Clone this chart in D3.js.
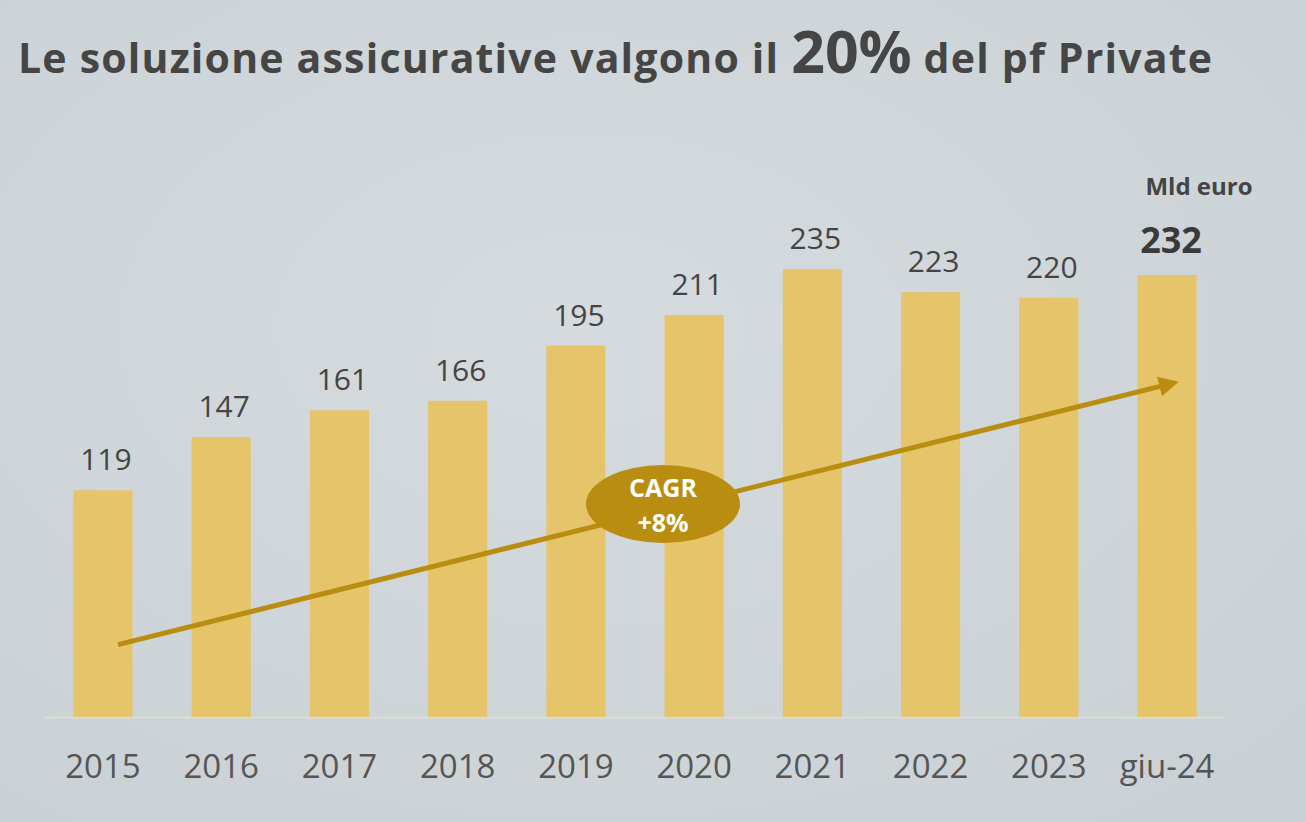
<!DOCTYPE html>
<meta charset="utf-8">
<script src="https://d3js.org/d3.v7.min.js"></script>
<style>
body { margin: 0; background: #cfd5d8; }
svg text { font-family: "Open Sans", "DejaVu Sans", sans-serif; }
</style>
<div id="chart"></div>
<script>

// data (Mld euro)
var years = ["2015", "2016", "2017", "2018", "2019", "2020", "2021", "2022", "2023", "giu-24"];
var values = [119, 147, 161, 166, 195, 211, 235, 223, 220, 232];

// CAGR trend arrow, in data units (start / end value)
var trendValues = [38, 175];
var cagrLabel = ["CAGR", "+8%"];

var W = 1306, H = 822;
var margin = {top: 0, right: 0, bottom: 105, left: 45};
var baseY = H - margin.bottom; // 717

var svg = d3.select("#chart").append("svg")
  .attr("width", W)
  .attr("height", H);

// background with a soft gradient
var defs = svg.append("defs");
var grad = defs.append("radialGradient").attr("id", "bg").attr("cx", "45%").attr("cy", "40%").attr("r", "75%");
grad.append("stop").attr("offset", "0%").attr("stop-color", "#d5dbde");
grad.append("stop").attr("offset", "100%").attr("stop-color", "#cad1d4");
svg.append("rect").attr("width", W).attr("height", H).attr("fill", "url(#bg)");

// title
var title = svg.append("text")
  .attr("x", 18).attr("y", 73)
  .attr("fill", "#454545")
  .style("font-weight", 700)
  .style("font-size", "41px")
  .style("letter-spacing", "1.2px");
title.append("tspan").text("Le soluzione assicurative valgono il ");
title.append("tspan").style("font-size", "59px").style("letter-spacing", "0px").text("20%");
title.append("tspan").text(" del pf Private");

// scales
var x = d3.scaleBand()
  .domain(years)
  .range([45, 1225])
  .paddingInner(0.5)
  .paddingOuter(0.24);

var y = d3.scaleLinear()
  .domain([0, 235])
  .range([baseY, baseY - 235 * 1.905]);

// baseline
svg.append("line")
  .attr("x1", 45).attr("x2", 1225)
  .attr("y1", baseY + 0.5).attr("y2", baseY + 0.5)
  .attr("stroke", "#e2ddd0").attr("stroke-width", 1.5);

// bars
svg.append("g").selectAll("rect")
  .data(values)
  .join("rect")
    .attr("x", function(d, i) { return x(years[i]); })
    .attr("y", function(d) { return y(d); })
    .attr("width", x.bandwidth())
    .attr("height", function(d) { return baseY - y(d); })
    .attr("fill", "#e6c46a");

// value labels
var last = values.length - 1;
svg.append("g").selectAll("text")
  .data(values)
  .join("text")
    .attr("x", function(d, i) { return x(years[i]) + x.bandwidth() / 2 + (i == last ? 4 : 3); })
    .attr("y", function(d, i) { return y(d) - (i == last ? 22 : 20); })
    .attr("text-anchor", "middle")
    .attr("fill", function(d, i) { return i == last ? "#3a3a3a" : "#444"; })
    .style("font-size", function(d, i) { return i == last ? "36px" : "30px"; })
    .style("font-weight", function(d, i) { return i == last ? 700 : 400; })
    .text(function(d) { return d; });

// unit label
svg.append("text")
  .attr("x", 1199)
  .attr("y", 195)
  .attr("text-anchor", "middle")
  .attr("fill", "#444")
  .style("font-size", "24px")
  .style("font-weight", 700)
  .text("Mld euro");

// x axis labels
var xAxis = svg.append("g")
  .attr("transform", "translate(0," + baseY + ")")
  .call(d3.axisBottom(x).tickSize(0).tickPadding(0));
xAxis.select(".domain").remove();
xAxis.selectAll("text")
  .attr("dy", "61px")
  .attr("fill", "#555")
  .style("font-family", "'Open Sans', 'DejaVu Sans', sans-serif")
  .style("font-size", "33px");

// CAGR arrow
var gold = "#b98d10";
defs.append("marker")
  .attr("id", "head")
  .attr("viewBox", "0 0 10 10")
  .attr("refX", 6).attr("refY", 5)
  .attr("markerWidth", 4).attr("markerHeight", 4)
  .attr("orient", "auto")
  .append("path").attr("d", "M0,0 L10,5 L0,10 z").attr("fill", gold);

var x1 = x(years[0]) + x.bandwidth() / 2 + 15;
var x2 = x(years[last]) + x.bandwidth() / 2 + 4;
svg.append("line")
  .attr("x1", x1).attr("y1", y(trendValues[0]))
  .attr("x2", x2).attr("y2", y(trendValues[1]))
  .attr("stroke", gold).attr("stroke-width", 5)
  .attr("marker-end", "url(#head)");

// CAGR bubble
var cx = 663, cy = 504;
svg.append("ellipse")
  .attr("cx", cx).attr("cy", cy)
  .attr("rx", 77).attr("ry", 39)
  .attr("fill", gold);
svg.append("g").selectAll("text")
  .data(cagrLabel)
  .join("text")
    .attr("x", cx)
    .attr("y", function(d, i) { return cy - 7 + i * 35; })
    .attr("text-anchor", "middle")
    .attr("fill", "#fff")
    .style("font-size", "25px")
    .style("font-weight", 700)
    .text(function(d) { return d; });

</script>
